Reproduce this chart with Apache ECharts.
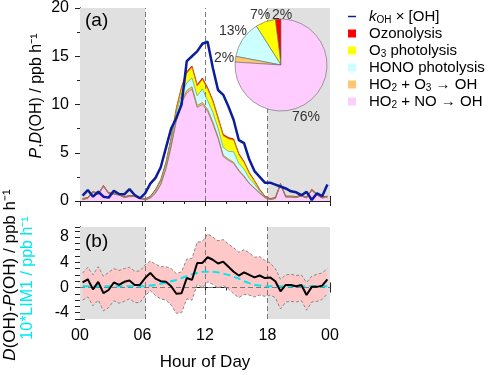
<!DOCTYPE html>
<html>
<head>
<meta charset="utf-8">
<script src="https://cdn.jsdelivr.net/npm/echarts@6/dist/echarts.min.js"></script>
<style>
html, body { margin: 0; padding: 0; background: #fff; }
#chart { width: 500px; height: 375px; }
</style>
</head>
<body>
<div id="chart"></div>
<script>
// half-hourly bins, centred on the quarter hour
var hours = [0.25, 0.75, 1.25, 1.75, 2.25, 2.75, 3.25, 3.75, 4.25, 4.75, 5.25, 5.75,
             6.25, 6.75, 7.25, 7.75, 8.25, 8.75, 9.25, 9.75, 10.25, 10.75, 11.25, 11.75,
             12.25, 12.75, 13.25, 13.75, 14.25, 14.75, 15.25, 15.75, 16.25, 16.75, 17.25, 17.75,
             18.25, 18.75, 19.25, 19.75, 20.25, 20.75, 21.25, 21.75, 22.25, 22.75, 23.25, 23.75];
var hourTicks = ['00', '06', '12', '18', '00'];

// panel (a): OH loss and production terms, ppb/h
var kOH = [0.55, 1.13, 0.45, 0.96, 0.45, 0.35, 1.06, 0.72, 0.69, 1.23, 0.62, 0.28,
           0.79, 1.8, 2.4, 3.5, 5.5, 7.5, 8.6, 10.0, 14.5, 15.0, 15.5, 16.3,
           16.5, 13.8, 11.5, 11.0, 9.8, 8.4, 6.3, 6.0, 4.3, 3.1, 2.5, 1.9,
           1.9, 1.7, 1.5, 1.3, 1.0, 0.9, 0.6, 0.95, 0.1, 0.8, 0.5, 1.7];
var ho2No = [0.15, 0.25, 0.9, 0.65, 1.5, 0.75, 0.7, 0.6, 0.35, 0.45, 0.45, 0.25,
             0.1, 0.3, 0.8, 1.7, 3.3, 5.6, 8.3, 10.2, 11.2, 11.6, 9.7, 10.0,
             9.3, 8.0, 6.5, 4.6, 4.2, 3.9, 3.1, 2.5, 1.8, 1.3, 0.8, 0.35,
             0.15, 0.25, 1.7, 0.4, 0.4, 0.35, 0.5, 0.3, 1.1, 0.6, 0.3, 0.4];
var ho2O3 = [0.03, 0.03, 0.03, 0.03, 0.03, 0.03, 0.03, 0.03, 0.03, 0.03, 0.03, 0.03,
             0.02, 0.02, 0.05, 0.05, 0.1, 0.15, 0.2, 0.2, 0.25, 0.25, 0.2, 0.2,
             0.2, 0.2, 0.15, 0.15, 0.15, 0.1, 0.1, 0.1, 0.05, 0.05, 0.03, 0.02,
             0.02, 0.03, 0.03, 0.03, 0.03, 0.03, 0.03, 0.03, 0.03, 0.03, 0.03, 0.03];
var hono = [0.02, 0.02, 0.02, 0.02, 0.02, 0.02, 0.02, 0.02, 0.02, 0.02, 0.02, 0.02,
            0.05, 0.1, 0.2, 0.3, 0.4, 0.5, 0.6, 0.7, 0.8, 0.9, 1.0, 1.4,
            0.9, 1.0, 0.9, 0.8, 0.8, 1.1, 0.7, 0.7, 0.5, 0.4, 0.2, 0.05,
            0.02, 0.02, 0.02, 0.02, 0.02, 0.02, 0.02, 0.02, 0.02, 0.02, 0.02, 0.02];
var o3Phot = [0, 0, 0, 0, 0, 0, 0, 0, 0, 0, 0, 0,
              0, 0, 0.03, 0.05, 0.1, 0.2, 0.4, 0.6, 1.0, 1.1, 1.0, 1.0,
              1.2, 1.1, 1.0, 1.2, 1.3, 1.2, 0.9, 0.7, 0.5, 0.3, 0.1, 0.02,
              0, 0, 0, 0, 0, 0, 0, 0, 0, 0, 0, 0];
var ozonolysis = [0.06, 0.06, 0.06, 0.06, 0.06, 0.06, 0.06, 0.06, 0.06, 0.06, 0.06, 0.06,
                  0.06, 0.08, 0.1, 0.1, 0.12, 0.12, 0.14, 0.14, 0.15, 0.15, 0.15, 0.15,
                  0.15, 0.15, 0.14, 0.14, 0.13, 0.12, 0.12, 0.1, 0.1, 0.08, 0.08, 0.07,
                  0.06, 0.06, 0.06, 0.06, 0.06, 0.06, 0.06, 0.06, 0.06, 0.06, 0.06, 0.06];

// pie: daytime share of each production term (%)
var pieNames = ['Ozonolysis', 'O3 photolysis', 'HONO photolysis', 'HO2 + O3 → OH', 'HO2 + NO → OH'];
var pieShares = [2, 7, 13, 2, 76];

// panel (b): D(OH)-P(OH) with its uncertainty range, and 10*LIM1
var diffDP = [0.8, 1.3, -0.3, 0.9, -0.9, -0.4, 0.8, 0.4, 0.9, 1.1, 0.4, 0.4,
              1.5, 2.3, 1.4, 1.0, 0.9, 0.2, -1.0, -0.9, 1.5, 1.2, 3.9, 3.9,
              4.8, 4.4, 3.8, 4.1, 3.3, 2.5, 1.9, 2.4, 2.0, 1.6, 1.9, 1.5,
              1.6, 1.0, -0.6, 0.4, 0.4, 0.2, 0.4, -1.2, 0.1, 0.1, 0.3, 1.3];
var diffUpper = [2.3, 3.2, 2.0, 3.3, 1.8, 2.4, 3.0, 2.7, 3.0, 3.2, 2.6, 2.6,
                 3.6, 4.2, 3.7, 3.3, 3.3, 3.0, 2.2, 2.5, 4.5, 4.6, 7.2, 7.3,
                 8.5, 8.0, 7.4, 7.6, 6.9, 6.3, 5.6, 6.0, 5.5, 4.8, 4.9, 4.3,
                 3.9, 3.0, 1.3, 2.0, 2.1, 1.9, 2.0, 0.8, 1.8, 2.1, 2.3, 3.0];
var diffLower = [-2.0, -1.5, -2.9, -2.0, -3.7, -3.2, -2.1, -2.5, -2.2, -1.8, -2.4, -2.4,
                 -1.3, -0.5, -1.3, -1.8, -2.0, -2.8, -4.1, -4.0, -1.8, -2.0, 0.5, 0.0,
                 0.9, 0.5, -0.1, 0.3, -0.2, -1.0, -1.6, -1.1, -1.2, -1.5, -1.2, -1.4,
                 -1.2, -1.6, -3.4, -2.3, -2.2, -2.3, -2.1, -3.6, -2.3, -2.2, -1.9, -1.0];
var lim1x10 = [0.2, 0.2, 0.2, 0.2, 0.2, 0.2, 0.2, 0.2, 0.2, 0.2, 0.2, 0.2,
               0.2, 0.3, 0.4, 0.6, 0.8, 1.0, 1.2, 1.5, 1.8, 2.1, 2.3, 2.5,
               2.5, 2.5, 2.4, 2.2, 2.0, 1.7, 1.4, 1.0, 0.7, 0.4, 0.3, 0.2,
               0.2, 0.2, 0.2, 0.2, 0.2, 0.2, 0.2, 0.2, 0.2, 0.2, 0.2, 0.2];

var sunrise = 6.3, noon = 12, sunset = 18;

function pairs(ys) {
    return hours.map(function (h, i) { return [h, ys[i]]; });
}

// running totals for the stacked production terms (bottom layer first)
var layers = [ho2No, ho2O3, hono, o3Phot, ozonolysis];
var cumulative = [];
layers.forEach(function (ys, j) {
    cumulative.push(ys.map(function (v, i) { return v + (j ? cumulative[j - 1][i] : 0); }));
});

// where the pie's percent labels sit (px)
var pieLabelSpots = [{ x: 282, y: 15 }, { x: 260, y: 15 }, { x: 233, y: 31 }, { x: 224, y: 58 }, { x: 306, y: 117 }];

var myChart = echarts.init(document.getElementById('chart'));

var font = 'Liberation Sans, Arial, sans-serif';
var frame = { show: true, lineStyle: { color: '#222', width: 1 } };
var tickIn = { show: true, inside: true, length: 5, lineStyle: { color: '#222' } };

function xAx(grid, pos, labels) {
    return {
        type: 'value', gridIndex: grid, position: pos, min: 0, max: 24, interval: 6,
        axisLine: frame, axisTick: tickIn,
        minorTick: { show: true, splitNumber: 3, length: 3, lineStyle: { color: '#222' } },
        splitLine: { show: false },
        axisLabel: labels ? {
            show: true, fontSize: 16, color: '#000', fontFamily: font, margin: 9,
            formatter: function (v) { return hourTicks[v / 6]; }
        } : { show: false },
        name: labels ? 'Hour of Day' : '',
        nameLocation: 'middle', nameGap: 35,
        nameTextStyle: { fontSize: 17, color: '#000', fontFamily: font }
    };
}

function yAx(grid, pos, min, max, interval, minorSplit, shown, labels) {
    return {
        type: 'value', gridIndex: grid, position: pos, min: min, max: max, interval: interval,
        axisLine: frame, axisTick: tickIn,
        minorTick: { show: minorSplit > 1, splitNumber: minorSplit, length: 3, lineStyle: { color: '#222' } },
        splitLine: { show: false },
        axisLabel: labels ? {
            show: true, fontSize: 16, color: '#000', fontFamily: font, margin: 11,
            formatter: function (v) { return shown.indexOf(v) >= 0 ? String(v) : ''; }
        } : { show: false }
    };
}

function shade(xi, yi) {
    return {
        type: 'line', xAxisIndex: xi, yAxisIndex: yi, data: [], z: 0, silent: true,
        markArea: {
            silent: true,
            itemStyle: { color: '#e0e0e0' },
            data: [[{ xAxis: 0 }, { xAxis: sunrise }], [{ xAxis: sunset }, { xAxis: 24 }]]
        }
    };
}

function guides(xi, yi, withZero) {
    var lines = [{ xAxis: sunrise }, { xAxis: noon }, { xAxis: sunset }];
    if (withZero) lines.push({ yAxis: 0 });
    return {
        type: 'line', xAxisIndex: xi, yAxisIndex: yi, data: [], z: 4, silent: true,
        markLine: {
            silent: true, symbol: 'none', label: { show: false },
            lineStyle: { color: '#7a7a7a', type: [5, 3], width: 1 },
            data: lines
        }
    };
}

function stackArea(name, j, fill, edge) {
    return {
        name: name, type: 'line', xAxisIndex: 0, yAxisIndex: 0,
        data: pairs(cumulative[j]), symbol: 'none', z: 2,
        lineStyle: { color: edge, width: 0.8 },
        areaStyle: { color: fill, opacity: 1, origin: 'start' },
        itemStyle: { color: fill }
    };
}

var pieColors = ['#ff0000', '#ffff00', '#ccffff', '#ffc870', '#ffccff'];

var legendText = {
    'kOH': '{i|k}{s|OH} × [OH]',
    'Ozonolysis': 'Ozonolysis',
    'O3 photolysis': 'O{s|3} photolysis',
    'HONO photolysis': 'HONO photolysis',
    'HO2 + O3 → OH': 'HO{s|2} + O{s|3} → OH',
    'HO2 + NO → OH': 'HO{s|2} + NO → OH'
};

var option = {
    animation: false,
    textStyle: { fontFamily: font },
    grid: [
        { left: 80, top: 6, width: 250, height: 195 },
        { left: 80, top: 227, width: 250, height: 92 }
    ],
    xAxis: [xAx(0, 'bottom', false), xAx(0, 'top', false), xAx(1, 'bottom', true), xAx(1, 'top', false)],
    yAxis: [
        yAx(0, 'left', 0, 20, 5, 2, [0, 5, 10, 15, 20], true),
        yAx(0, 'right', 0, 20, 5, 2, [], false),
        yAx(1, 'left', -5, 9.6, 1, 0, [-4, 0, 4, 8], true),
        yAx(1, 'right', -5, 9.6, 1, 0, [], false)
    ],
    legend: {
        orient: 'vertical', left: 343, top: 3, itemWidth: 8, itemHeight: 8, itemGap: 0,
        data: [
            { name: 'kOH', icon: 'path://M0,0h12v2.2h-12z' },
            { name: 'Ozonolysis', icon: 'rect' },
            { name: 'O3 photolysis', icon: 'rect' },
            { name: 'HONO photolysis', icon: 'rect' },
            { name: 'HO2 + O3 → OH', icon: 'rect' },
            { name: 'HO2 + NO → OH', icon: 'rect' }
        ],
        formatter: function (n) { return legendText[n]; },
        textStyle: {
            fontSize: 15, color: '#000', lineHeight: 17, padding: [0, 0, 0, 8], fontFamily: font,
            rich: {
                i: { fontSize: 15, fontStyle: 'italic', lineHeight: 17, fontFamily: font },
                s: { fontSize: 10, lineHeight: 17, verticalAlign: 'bottom', fontFamily: font }
            }
        }
    },
    graphic: [
        { type: 'text', left: 85, top: 11, z: 100, style: { text: '(a)', font: '19px Liberation Sans', fill: '#000' } },
        { type: 'text', left: 85, top: 232, z: 100, style: { text: '(b)', font: '19px Liberation Sans', fill: '#000' } },
        {
            type: 'text', x: 37, y: 96, rotation: Math.PI / 2,
            style: {
                text: '{i|P},{i|D}(OH) / ppb h⁻¹', align: 'center', verticalAlign: 'middle',
                font: '16px Liberation Sans', fill: '#000',
                rich: { i: { fontStyle: 'italic', fontSize: 16, fontFamily: font } }
            }
        },
        {
            type: 'text', x: 10, y: 275, rotation: Math.PI / 2,
            style: {
                text: '{i|D}(OH)-{i|P}(OH) / ppb h⁻¹', align: 'center', verticalAlign: 'middle',
                font: '17px Liberation Sans', fill: '#000',
                rich: { i: { fontStyle: 'italic', fontSize: 17, fontFamily: font } }
            }
        },
        {
            type: 'text', x: 28, y: 278, rotation: Math.PI / 2,
            style: {
                text: '10*LIM1 / ppb h⁻¹', align: 'center', verticalAlign: 'middle',
                font: '16px Liberation Sans', fill: '#00e8f0'
            }
        }
    ],
    series: [
        shade(0, 0),
        shade(2, 2),
        // widest total first so each narrower layer paints over it
        stackArea('Ozonolysis', 4, '#ff0000', '#e00000'),
        stackArea('O3 photolysis', 3, '#ffff00', '#b8a800'),
        stackArea('HONO photolysis', 2, '#ccffff', '#60a8a8'),
        stackArea('HO2 + O3 → OH', 1, '#ffc870', '#b07838'),
        stackArea('HO2 + NO → OH', 0, '#ffccff', '#8c7878'),
        guides(0, 0, false),
        {
            name: 'kOH', type: 'line', xAxisIndex: 0, yAxisIndex: 0, data: pairs(kOH),
            symbol: 'none', z: 5,
            lineStyle: { color: '#0a1e9c', width: 2.5 }, itemStyle: { color: '#0a1e9c' }
        },
        {
            type: 'pie', center: [281, 65], radius: 46, startAngle: 90, clockwise: false,
            z: 6, silent: true, avoidLabelOverlap: false,
            data: pieNames.map(function (n, i) {
                return { name: n, value: pieShares[i], itemStyle: { color: pieColors[i] } };
            }),
            itemStyle: { borderColor: '#666', borderWidth: 0.6 },
            label: {
                show: true, position: 'outside', formatter: '{c}%',
                fontSize: 14, color: '#333', fontFamily: font
            },
            labelLine: { show: false },
            labelLayout: function (p) {
                var s = pieLabelSpots[p.dataIndex];
                return { x: s.x, y: s.y, align: 'center', verticalAlign: 'middle' };
            }
        },
        // uncertainty band of panel (b), drawn as one polygon between its two edges
        {
            type: 'custom', xAxisIndex: 2, yAxisIndex: 2, z: 2, silent: true,
            data: pairs(diffUpper), encode: { x: 0, y: 1 },
            renderItem: function (params, api) {
                if (params.dataIndex !== 0) return null;
                var pts = [];
                for (var i = 0; i < hours.length; i++) pts.push(api.coord([hours[i], diffUpper[i]]));
                for (var k = hours.length - 1; k >= 0; k--) pts.push(api.coord([hours[k], diffLower[k]]));
                return { type: 'polygon', shape: { points: pts }, style: { fill: '#ffc8c8' } };
            }
        },
        {
            type: 'line', xAxisIndex: 2, yAxisIndex: 2, data: pairs(diffUpper), symbol: 'none', z: 3,
            lineStyle: { color: '#888', width: 1, type: [3, 2] }
        },
        {
            type: 'line', xAxisIndex: 2, yAxisIndex: 2, data: pairs(diffLower), symbol: 'none', z: 3,
            lineStyle: { color: '#888', width: 1, type: [3, 2] }
        },
        guides(2, 2, true),
        {
            type: 'line', xAxisIndex: 2, yAxisIndex: 2, data: pairs(lim1x10), symbol: 'none', z: 5,
            lineStyle: { color: '#00e8f0', width: 2, type: [7, 4] }
        },
        {
            type: 'line', xAxisIndex: 2, yAxisIndex: 2, data: pairs(diffDP), symbol: 'none', z: 6,
            lineStyle: { color: '#000', width: 2 }
        }
    ]
};

myChart.setOption(option);
</script>
</body>
</html>
